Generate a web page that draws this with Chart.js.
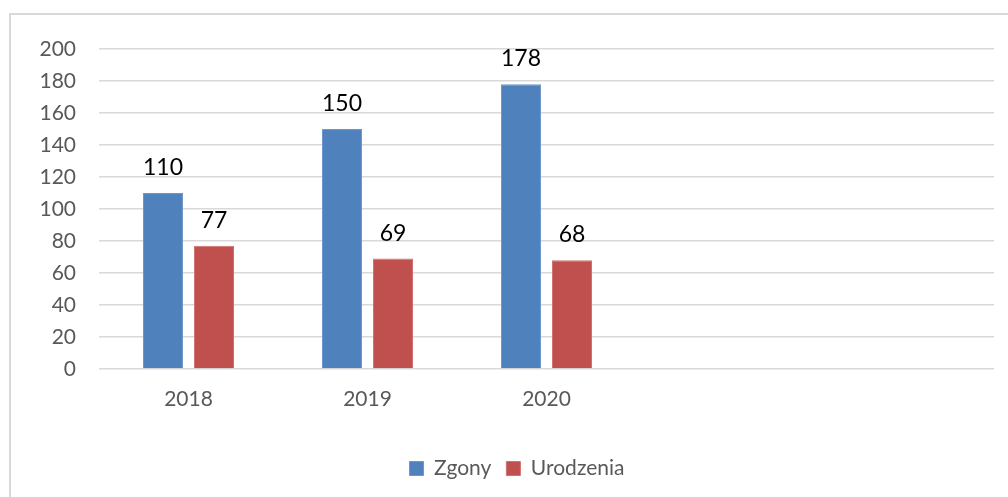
<!DOCTYPE html>
<html>
<head>
<meta charset="utf-8">
<title>Zgony i urodzenia</title>
<script src="https://cdn.jsdelivr.net/npm/chart.js"></script>
<style>
  html, body { margin: 0; padding: 0; background: #fff; overflow: hidden; width: 1008px; height: 497px; }
  .frame { position: absolute; left: 9px; top: 13px; width: 1010px; height: 500px; border: 2px solid #d9d9d9; }
  .wrap { position: absolute; left: 0; top: 0; width: 1034px; height: 497px; }
</style>
</head>
<body>
<div class="frame"></div>
<div class="wrap"><canvas id="chart"></canvas></div>
<script>
// dane
const years = ['2018', '2019', '2020', '', ''];
const zgony = [110, 150, 178, null, null];
const urodzenia = [77, 69, 68, null, null];
const yTicks = [0, 20, 40, 60, 80, 100, 120, 140, 160, 180, 200];

const FONT = 'Lato, "Open Sans", sans-serif';

// etykiety wartości nad słupkami
const valueLabels = {
  id: 'valueLabels',
  afterDatasetsDraw(chart) {
    const ctx = chart.ctx;
    ctx.save();
    ctx.font = '23px ' + FONT;
    ctx.fillStyle = '#000';
    ctx.textAlign = 'center';
    ctx.textBaseline = 'alphabetic';
    chart.data.datasets.forEach((ds, i) => {
      chart.getDatasetMeta(i).data.forEach((bar, j) => {
        const v = ds.data[j];
        if (v == null) return;
        ctx.fillText(String(v), bar.x, bar.y - 18);
      });
    });
    ctx.restore();
  }
};

new Chart(document.getElementById('chart'), {
  type: 'bar',
  data: {
    labels: years,
    datasets: [
      { label: 'Zgony', data: zgony, backgroundColor: '#4f81bd', borderColor: '#6f97cb', borderWidth: 1 },
      { label: 'Urodzenia', data: urodzenia, backgroundColor: '#c0504d', borderColor: '#cf716f', borderWidth: 1 }
    ]
  },
  options: {
    responsive: true,
    maintainAspectRatio: false,
    animation: false,
    categoryPercentage: 0.57,
    barPercentage: 0.784,
    layout: { padding: { top: 49, right: 0, bottom: 8, left: 0 } },
    plugins: {
      tooltip: { enabled: false },
      legend: {
        position: 'bottom',
        labels: {
          font: { family: FONT, size: 21 },
          color: '#595959',
          boxWidth: 14,
          boxHeight: 14,
          padding: 15
        }
      }
    },
    scales: {
      x: {
        grid: { display: false },
        border: { display: false },
        ticks: { font: { family: FONT, size: 21 }, color: '#595959', padding: 10 },
        afterFit(scale) { scale.height = 74; }
      },
      y: {
        min: 0,
        max: 200,
        afterBuildTicks(scale) { scale.ticks = yTicks.map(v => ({ value: v })); },
        grid: { color: '#d9d9d9', lineWidth: 1.5, drawTicks: false },
        border: { display: false },
        ticks: { font: { family: FONT, size: 21 }, color: '#595959', padding: 23 },
        afterFit(scale) { scale.width = 99; }
      },
      // pusta oś po prawej - odsuwa obszar wykresu od krawędzi
      yRight: {
        type: 'linear',
        position: 'right',
        grid: { display: false },
        border: { display: false },
        ticks: { display: false },
        afterFit(scale) { scale.width = 40; }
      }
    }
  },
  plugins: [valueLabels]
});
</script>
</body>
</html>
